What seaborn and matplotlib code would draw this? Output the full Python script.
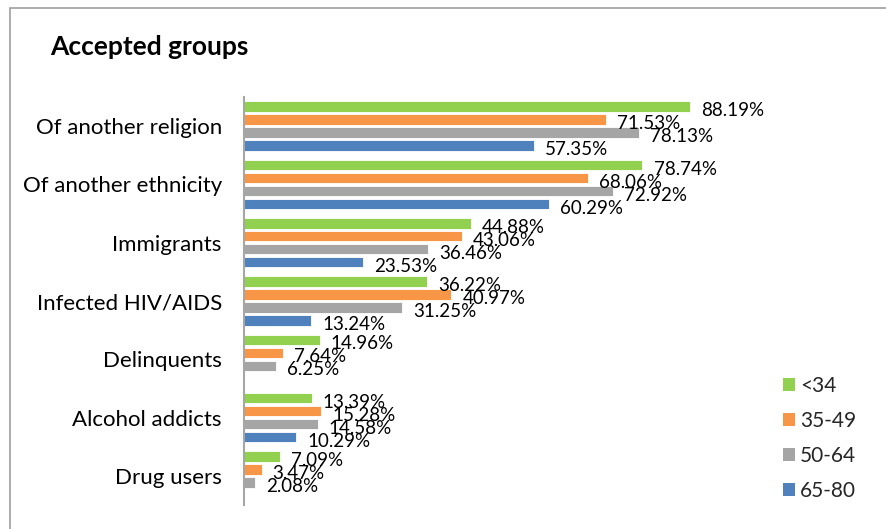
import numpy as np
import pandas as pd
import seaborn as sns
import matplotlib.pyplot as plt
from matplotlib.patches import Rectangle, Patch

categories = ["Of another religion", "Of another ethnicity", "Immigrants",
              "Infected HIV/AIDS", "Delinquents", "Alcohol addicts", "Drug users"]
age_groups = ["<34", "35-49", "50-64", "65-80"]
vals_lt34 = [88.19, 78.74, 44.88, 36.22, 14.96, 13.39, 7.09]
vals_35_49 = [71.53, 68.06, 43.06, 40.97, 7.64, 15.28, 3.47]
vals_50_64 = [78.13, 72.92, 36.46, 31.25, 6.25, 14.58, 2.08]
vals_65_80 = [57.35, 60.29, 23.53, 13.24, np.nan, 10.29, np.nan]
colors = ["#92D050", "#F79646", "#A5A5A5", "#4F81BD"]

rows = []
for grp, series in zip(age_groups, [vals_lt34, vals_35_49, vals_50_64, vals_65_80]):
    for cat, v in zip(categories, series):
        rows.append({"category": cat, "age": grp, "value": v})
df = pd.DataFrame(rows)

sns.set_theme(style="white")
plt.rcParams["font.family"] = ["Lato", "DejaVu Sans"]

W, H = 886, 529
fig = plt.figure(figsize=(W / 100, H / 100), dpi=100)
ax = fig.add_axes([244 / W, 1 - 505 / H, 506 / W, (505 - 97) / H])

sns.barplot(data=df, y="category", x="value", hue="age", order=categories,
            hue_order=age_groups, palette=colors, saturation=1, orient="h",
            width=0.89, gap=0.19, dodge=True, ax=ax, legend=False,
            errorbar=None, edgecolor="white", linewidth=0.6)

ax.set_xlim(0, 100)
ax.set_ylim(len(categories) - 0.5, -0.5)
ax.set_xlabel("")
ax.set_ylabel("")
ax.set_xticks([])
for s in ["top", "right", "bottom"]:
    ax.spines[s].set_visible(False)
ax.spines["left"].set_color("#A6A6A6")
ax.spines["left"].set_linewidth(1.5)
ax.tick_params(axis="y", length=0, pad=16, labelsize=16, labelcolor="#000000")

for cont in ax.containers:
    anns = ax.bar_label(cont, fmt="%.2f%%", padding=8, fontsize=13.5, color="#000000")
    for a in anns:
        a.xyann = (8, -3)

handles = [Patch(facecolor=c, edgecolor="none") for c in colors]
fig.legend(handles, age_groups, loc="upper left", bbox_to_anchor=(783 / W, 1 - 376 / H),
           frameon=False, fontsize=15, handlelength=0.58, handleheight=0.58,
           handletextpad=0.25, labelspacing=0.72, borderpad=0, borderaxespad=0)

fig.text(50 / W, 1 - 47 / H, "Accepted groups", fontsize=19, fontweight="bold",
         ha="left", va="center", color="#000000")

fig.patches.append(Rectangle((10 / W, -0.1), 1.2, 1.1 - 8 / H,
                             transform=fig.transFigure, fill=False,
                             edgecolor="#A0A0A0", linewidth=1.2))

fig.savefig("out.png", dpi=100)
